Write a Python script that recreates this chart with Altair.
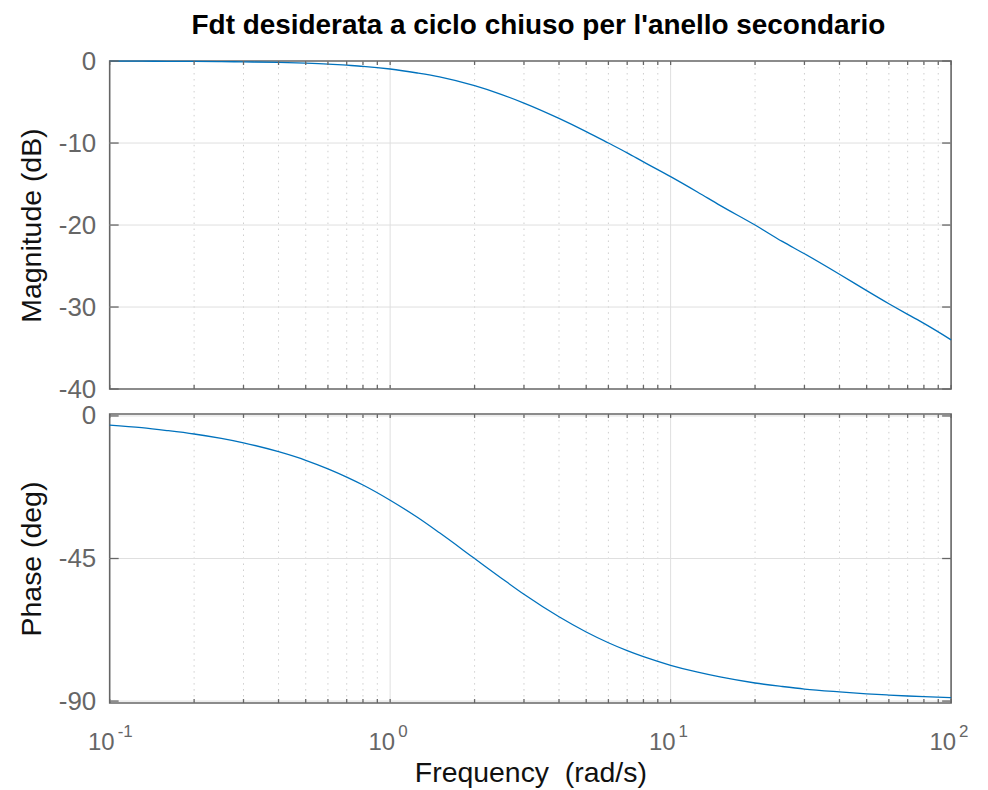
import altair as alt
import pandas as pd

# ---- data ----
freq = [0.1, 0.13, 0.16, 0.2, 0.25, 0.3, 0.4, 0.5, 0.6, 0.7, 0.8, 1.0, 1.25, 1.5,
        2.0, 2.5, 3.0, 4.0, 5.0, 6.0, 7.0, 8.0, 10.0, 12.5, 15.0, 20.0, 25.0, 30.0,
        40.0, 50.0, 60.0, 70.0, 80.0, 100.0]
mag_db = [-0.01, -0.02, -0.03, -0.04, -0.07, -0.10, -0.17, -0.26, -0.37, -0.51, -0.64,
          -0.97, -1.46, -1.94, -3.01, -4.09, -5.12, -6.99, -8.60, -10.0, -11.2, -12.3,
          -14.1, -16.0, -17.6, -20.0, -22.0, -23.5, -26.0, -28.0, -29.6, -30.9, -32.0, -34.0]
phase_deg = [-2.9, -3.7, -4.6, -5.7, -7.1, -8.5, -11.3, -14.0, -16.7, -19.3, -21.8,
             -26.6, -32.0, -36.9, -45.0, -51.3, -56.3, -63.4, -68.2, -71.6, -74.1, -76.0,
             -78.7, -80.9, -82.4, -84.3, -85.4, -86.2, -87.1, -87.7, -88.1, -88.4, -88.6, -88.9]

decades = [0.1, 1, 10, 100]
decade_exp = ["-1", "0", "1", "2"]
minor_freq = [0.2, 0.3, 0.4, 0.5, 0.6, 0.7, 0.8, 0.9,
              2, 3, 4, 5, 6, 7, 8, 9,
              20, 30, 40, 50, 60, 70, 80, 90]
mag_ticks = [-40, -30, -20, -10, 0]
phase_ticks = [-90, -45, 0]

title_text = "Fdt desiderata a ciclo chiuso per l'anello secondario"
xtitle_text = "Frequency \u00a0(rad/s)"

# ---- styling ----
FONT = "Liberation Sans"
W = 844
H1 = 329
H2 = 290
LINE = "#0072BD"
FRAME = "#666666"
GRID = "#dfdfdf"
MINOR = "#cfcfcf"
TICKLEN_X = 4
TICKLEN_Y = 9

curve = pd.DataFrame({"f": freq, "mag": mag_db, "ph": phase_deg})
dec_df = pd.DataFrame({"f": decades, "e": decade_exp, "b": ["10"] * 4})
minor_df = pd.DataFrame({"f": minor_freq})
alltick_df = pd.DataFrame({"f": decades + minor_freq})

xscale = alt.Scale(type="log", domain=[0.1, 100], nice=False)


def panel(field, ticks, domain, H, ytitle, bottom):
    yscale = alt.Scale(domain=domain, nice=False, zero=False)
    inner = [t for t in ticks if domain[0] < t < domain[1]]
    ytick_df = pd.DataFrame({"v": ticks})
    hgrid_df = pd.DataFrame({"v": inner})

    if bottom:
        xaxis = alt.Axis(title=xtitle_text, labels=False, ticks=False,
                         domain=False, grid=False, titleFontSize=28.5,
                         titleFont=FONT, titleColor="#111111", titleFontWeight="normal",
                         titlePadding=56)
    else:
        xaxis = None
    yaxis = alt.Axis(values=ticks, title=ytitle, grid=False, ticks=False,
                     domain=False, labelFontSize=26, labelFont=FONT,
                     labelColor="#666666", labelPadding=14,
                     labelExpr="datum.value + ''",
                     titleFontSize=28.5, titleFont=FONT,
                     titleColor="#111111", titleFontWeight="normal",
                     titlePadding=11.5)

    def X(name="f"):
        return alt.X(f"{name}:Q", scale=xscale, axis=xaxis)

    def Y(name):
        return alt.Y(f"{name}:Q", scale=yscale, axis=yaxis)

    minor_grid = alt.Chart(minor_df).mark_rule(
        color=MINOR, strokeWidth=1, strokeDash=[1.5, 4.5]
    ).encode(x=X())
    major_grid = alt.Chart(pd.DataFrame({"f": [1, 10]})).mark_rule(
        color=GRID, strokeWidth=1
    ).encode(x=X())
    hgrid = alt.Chart(hgrid_df).mark_rule(color=GRID, strokeWidth=1).encode(y=Y("v"))
    line = alt.Chart(curve).mark_line(color=LINE, strokeWidth=1.3,
                                      interpolate="monotone").encode(x=X(), y=Y(field))
    xt_top = alt.Chart(alltick_df).mark_rule(color=FRAME, strokeWidth=1.3).encode(
        x=X(), y=alt.value(0), y2=alt.value(TICKLEN_X))
    xt_bot = alt.Chart(alltick_df).mark_rule(color=FRAME, strokeWidth=1.3).encode(
        x=X(), y=alt.value(H - TICKLEN_X), y2=alt.value(H))
    yt_left = alt.Chart(ytick_df).mark_rule(color=FRAME, strokeWidth=1.3).encode(
        y=Y("v"), x=alt.value(0), x2=alt.value(TICKLEN_Y))
    yt_right = alt.Chart(ytick_df).mark_rule(color=FRAME, strokeWidth=1.3).encode(
        y=Y("v"), x=alt.value(W - TICKLEN_Y), x2=alt.value(W))

    layers = [minor_grid, major_grid, hgrid, line, xt_top, xt_bot, yt_left, yt_right]

    if bottom:
        base_lbl = alt.Chart(dec_df).mark_text(
            font=FONT, fontSize=24, color="#666666", align="right",
            baseline="alphabetic", dx=5
        ).encode(x=X(), y=alt.value(H + 47), text="b:N")
        exp_lbl = alt.Chart(dec_df).mark_text(
            font=FONT, fontSize=17, color="#666666", align="left",
            baseline="alphabetic", dx=8
        ).encode(x=X(), y=alt.value(H + 34), text="e:N")
        layers += [base_lbl, exp_lbl]
    else:
        ttl = alt.Chart(pd.DataFrame({"t": [title_text]})).mark_text(
            font=FONT, fontSize=28, fontWeight="bold", color="#000000",
            align="center", baseline="top"
        ).encode(x=alt.value(W / 2 + 8), y=alt.value(-49), text="t:N")
        layers.append(ttl)

    return alt.layer(*layers).properties(width=W, height=H)


top = panel("mag", mag_ticks, [-40, 0], H1, "Magnitude (dB)", False)
bot = panel("ph", phase_ticks, [-90.63, 0.63], H2, "Phase (deg)", True)

chart = alt.vconcat(top, bot, spacing=25, bounds="flush").properties(
    padding={"left": 9, "top": 2, "right": 10, "bottom": 0},
    background="white",
).configure_view(stroke=FRAME, strokeWidth=1.6)

chart.save("out.html", embed_options={"renderer": "svg", "actions": False})
